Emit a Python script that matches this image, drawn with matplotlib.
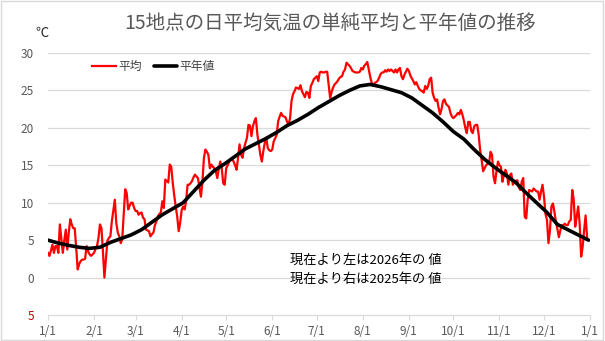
"""15地点の日平均気温の単純平均と平年値の推移 (Excel-style line chart)."""

import matplotlib

matplotlib.use("Agg")
import matplotlib.pyplot as plt
import numpy as np
import pandas as pd

plt.rcParams["font.family"] = ["Noto Sans CJK JP", "DejaVu Sans"]

# daily mean of 15 stations, 1/1 .. 12/30 (day index 0..363)
daily_mean = [
    3.3, 2.9, 3.6, 4.4, 3.3, 4.2, 4.2, 3.3, 7.1, 5.2,
    3.3, 5.0, 6.4, 3.75, 6.0, 7.8, 7.1, 6.6, 6.6, 4.0,
    1.1, 1.8, 2.2, 2.4, 2.4, 2.5, 4.2, 3.5, 3.1, 2.9,
    3.1, 3.3, 3.8, 4.2, 5.3, 7.1, 6.6, 3.5, 0.0, 2.5,
    4.9, 5.3, 5.5, 7.5, 9.0, 10.4, 7.3, 6.0, 5.5, 4.6,
    5.1, 8.5, 11.8, 11.3, 9.1, 9.6, 10.0, 10.0, 9.3, 8.9,
    8.9, 8.4, 8.6, 8.7, 8.0, 7.8, 6.4, 6.3, 6.2, 5.5,
    5.8, 6.0, 7.0, 7.5, 8.2, 8.5, 8.7, 10.2, 9.3, 13.1,
    12.9, 12.7, 15.1, 14.8, 12.7, 11.0, 9.5, 8.2, 6.2, 7.3,
    9.0, 9.5, 9.1, 10.2, 12.4, 12.4, 12.6, 12.9, 13.4, 13.75,
    13.5, 13.3, 12.0, 10.8, 12.8, 16.0, 17.1, 16.8, 16.4, 14.6,
    15.1, 14.8, 14.6, 14.2, 13.3, 14.5, 15.5, 14.6, 12.6, 12.4,
    14.6, 15.0, 15.5, 15.7, 15.8, 15.5, 15.0, 14.4, 16.0, 17.8,
    16.4, 16.0, 17.3, 18.0, 18.7, 20.4, 20.3, 18.9, 20.2, 20.9,
    21.3, 19.1, 17.8, 16.4, 15.5, 16.9, 18.0, 18.7, 17.3, 17.0,
    16.9, 17.1, 18.2, 18.6, 19.1, 20.9, 21.5, 22.0, 21.6, 21.5,
    21.4, 20.8, 20.4, 21.3, 23.6, 24.5, 24.9, 25.4, 25.3, 25.2,
    25.7, 24.9, 24.5, 24.1, 24.8, 24.7, 24.0, 25.6, 26.0, 26.5,
    26.7, 26.9, 26.25, 27.4, 27.5, 27.4, 27.4, 27.5, 27.5, 25.8,
    24.0, 24.8, 25.4, 25.8, 26.0, 26.25, 26.6, 26.8, 26.9, 27.5,
    27.8, 28.7, 28.5, 28.3, 28.0, 27.6, 27.5, 27.4, 27.4, 27.4,
    27.5, 28.0, 27.8, 28.3, 28.5, 28.8, 27.8, 26.8, 26.0, 25.6,
    26.0, 26.1, 26.3, 26.7, 27.2, 27.4, 27.4, 27.7, 27.5, 27.8,
    27.6, 27.8, 27.6, 27.4, 27.8, 27.4, 27.8, 28.0, 26.9, 26.5,
    27.1, 27.5, 27.9, 27.6, 27.0, 26.6, 26.25, 25.8, 26.1, 25.6,
    25.2, 25.0, 24.9, 24.7, 25.6, 25.2, 25.6, 26.5, 26.7, 24.7,
    24.0, 23.6, 23.8, 22.7, 21.8, 22.5, 23.6, 23.8, 23.2, 23.0,
    22.8, 22.0, 21.5, 21.3, 21.5, 21.7, 22.0, 21.8, 22.4, 21.8,
    21.0, 20.0, 19.3, 20.8, 20.8, 19.6, 19.3, 20.2, 20.4, 20.4,
    19.1, 17.0, 15.7, 14.2, 14.6, 15.0, 15.2, 15.3, 16.8, 16.4,
    13.5, 12.6, 14.2, 15.5, 15.0, 14.8, 12.8, 13.7, 14.4, 13.9,
    12.4, 13.7, 13.9, 12.4, 12.8, 12.9, 13.0, 12.1, 11.7, 12.8,
    13.3, 8.1, 7.9, 10.4, 11.7, 11.6, 11.5, 11.9, 11.7, 11.5,
    11.5, 10.4, 11.5, 12.4, 10.8, 8.5, 7.7, 4.6, 6.3, 9.5,
    9.9, 8.8, 7.5, 6.5, 5.4, 6.3, 7.0, 7.0, 7.2, 7.0,
    7.0, 7.5, 7.7, 11.7, 10.4, 6.8, 8.1, 9.5, 7.2, 2.8,
    4.1, 6.3, 8.3, 5.4,
]

# normal values, read weekly
normal_days = list(range(0, 365, 7))
normal_vals = [
    5.0, 4.6, 4.3, 4.05, 3.9, 4.05, 4.7, 5.2, 5.7, 6.4,
    7.4, 8.4, 9.2, 10.0, 11.5, 13.0, 14.3, 15.2, 16.2, 17.2,
    17.9, 18.6, 19.4, 20.3, 21.0, 21.8, 22.7, 23.5, 24.3, 25.0,
    25.6, 25.8, 25.5, 25.1, 24.7, 24.0, 23.0, 22.0, 20.8, 19.5,
    18.5, 17.1, 15.8, 14.7, 13.7, 12.7, 11.3, 10.0, 8.7, 7.1,
    6.4, 5.7, 5.0,
]

month_starts = pd.date_range("2025-01-01", "2026-01-01", freq="MS")
month_labels = [f"{d.month}/1" for d in month_starts]
y_ticks = [-5, 0, 5, 10, 15, 20, 25, 30]
y_labels = ["5", "0", "5", "10", "15", "20", "25", "30"]

fig = plt.figure(figsize=(6.05, 3.41), dpi=100)
ax = fig.add_axes([0.0793, 0.0762, 0.896, 0.7684])

days = np.arange(len(daily_mean))
ax.plot(days, daily_mean, color="#ff0000", lw=1.6, label="平均", zorder=3)
ax.plot(normal_days, normal_vals, color="black", lw=2.6, label="平年値", zorder=4,
        solid_capstyle="round", solid_joinstyle="round")

tick_pos = [(d - month_starts[0]).days for d in month_starts]
ax.set_xlim(0, tick_pos[-1])
ax.set_ylim(-5, 30)
ax.set_xticks(tick_pos)
ax.set_xticklabels(month_labels, fontsize=8.5, color="#595959")
ax.set_yticks(y_ticks)
ax.set_yticklabels(y_labels, fontsize=8.5, color="#595959")
ax.get_yticklabels()[0].set_color("#c00000")

for v in y_ticks[1:]:
    ax.axhline(v, color="#d9d9d9", lw=0.9, zorder=1)
for side in ["top", "right", "left"]:
    ax.spines[side].set_visible(False)
ax.spines["bottom"].set_color("#d9d9d9")
ax.spines["bottom"].set_linewidth(0.9)
ax.tick_params(axis="x", length=3.5, color="#d9d9d9", pad=4)
ax.tick_params(axis="y", length=0, pad=10)

fig.text(0.545, 0.932, "15地点の日平均気温の単純平均と平年値の推移",
         ha="center", va="center", fontsize=14, color="#595959")
fig.text(0.07, 0.902, "℃", ha="center", va="center", fontsize=9.5, color="#262626")

ax.legend(loc="center left", bbox_to_anchor=(0.143, 0.806), bbox_transform=fig.transFigure,
          ncol=2, frameon=False, fontsize=8.5, handlelength=2.0, handletextpad=0.2,
          columnspacing=1.0, labelcolor="#404040", borderpad=0)

ax.text(0.48, 0.208, "現在より左は2026年の 値\n現在より右は2025年の 値",
        transform=fig.transFigure, ha="left", va="center", fontsize=9.5,
        color="black", linespacing=1.65)

fig.patches.append(plt.Rectangle((0.002, 0.003), 0.995, 0.993, transform=fig.transFigure,
                                 fill=False, edgecolor="#d9d9d9", lw=1.0))

fig.savefig("out.png", dpi=100)
